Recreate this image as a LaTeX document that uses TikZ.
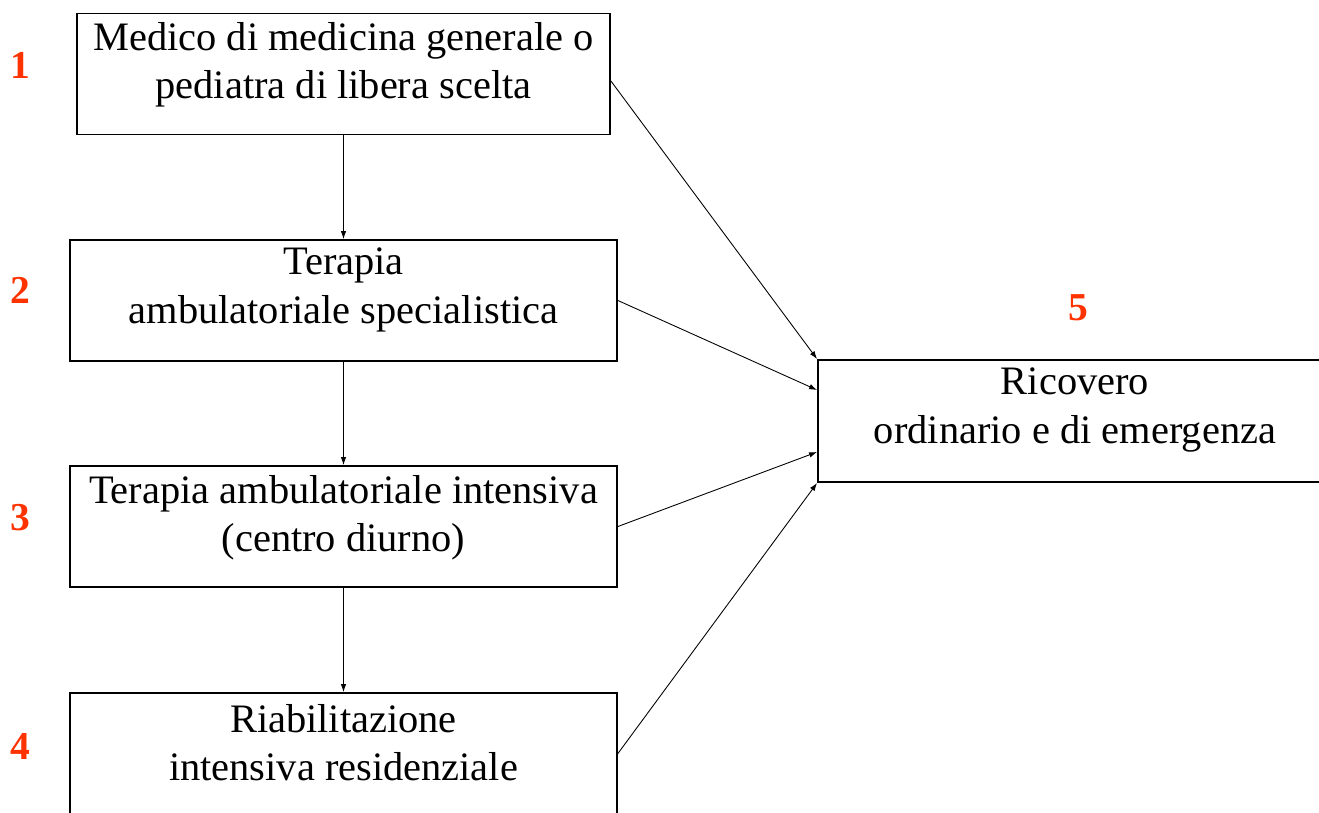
\documentclass[tikz,border=0pt]{standalone}
\usepackage{fontspec}
\setmainfont{Liberation Serif}
\usetikzlibrary{positioning,arrows.meta}
\definecolor{numred}{HTML}{FF3300}
\tikzset{
  box/.style={rectangle, draw, line width=1.1pt, minimum width=10.94cm, minimum height=2.42cm, inner sep=0pt},
  boxtext/.style={align=center, inner sep=0pt, font=\fontsize{23}{27.5}\selectfont},
  stepnum/.style={text=numred, inner sep=0pt, font=\fontsize{22.5}{26}\selectfont\bfseries},
  flow/.style={-{Latex[length=1.6mm,width=1.1mm]}, line width=0.5pt},
}

\begin{document}
\begin{tikzpicture}[x=0.02cm, y=-0.02cm]
  \useasboundingbox (0,0) rectangle (1319,812);
  \clip (0,0) rectangle (1319,812);

  % boxes on the left
  \node[box, minimum width=10.66cm] (medico) at (343.5,74) {};
  \node[box] (terapia) at (343.5,300.5) {};
  \node[box] (intensiva) at (343.5,526.5) {};
  \node[box] (riab) at (343.5,753.5) {};
  % box on the right
  \node[box, minimum width=10.28cm, minimum height=2.44cm] (ricovero) at (1075,421) {};

  \node[boxtext] (medicotxt) at (343.5,65) {Medico di medicina generale o\\pediatra di libera scelta};
  \node[boxtext] (terapiatxt) at (343.5,290) {Terapia\\ambulatoriale specialistica};
  \node[boxtext] (intensivatxt) at (343.5,518) {Terapia ambulatoriale intensiva\\(centro diurno)};
  \node[boxtext] (riabtxt) at (343.5,743) {Riabilitazione\\intensiva residenziale};
  \node[boxtext] (ricoverotxt) at (1075,410) {Ricovero\\ordinario e di emergenza};

  \node[stepnum] (n1) at (20,65) {1};
  \node[stepnum] (n2) at (20,290) {2};
  \node[stepnum] (n3) at (20,518) {3};
  \node[stepnum] (n4) at (20,746) {4};
  \node[stepnum] (n5) at (1078,308) {5};

  \draw[flow] (medico.south) -- (terapia.north);
  \draw[flow] (terapia.south) -- (intensiva.north);
  \draw[flow] (intensiva.south) -- (riab.north);

  \draw[flow] ([yshift=-0.14cm]medico.east) -- (ricovero.north west);
  \draw[flow] (terapia.east) -- ([yshift=0.62cm]ricovero.west);
  \draw[flow] (intensiva.east) -- ([yshift=-0.62cm]ricovero.west);
  \draw[flow] (riab.east) -- (ricovero.south west);
\end{tikzpicture}
\end{document}
